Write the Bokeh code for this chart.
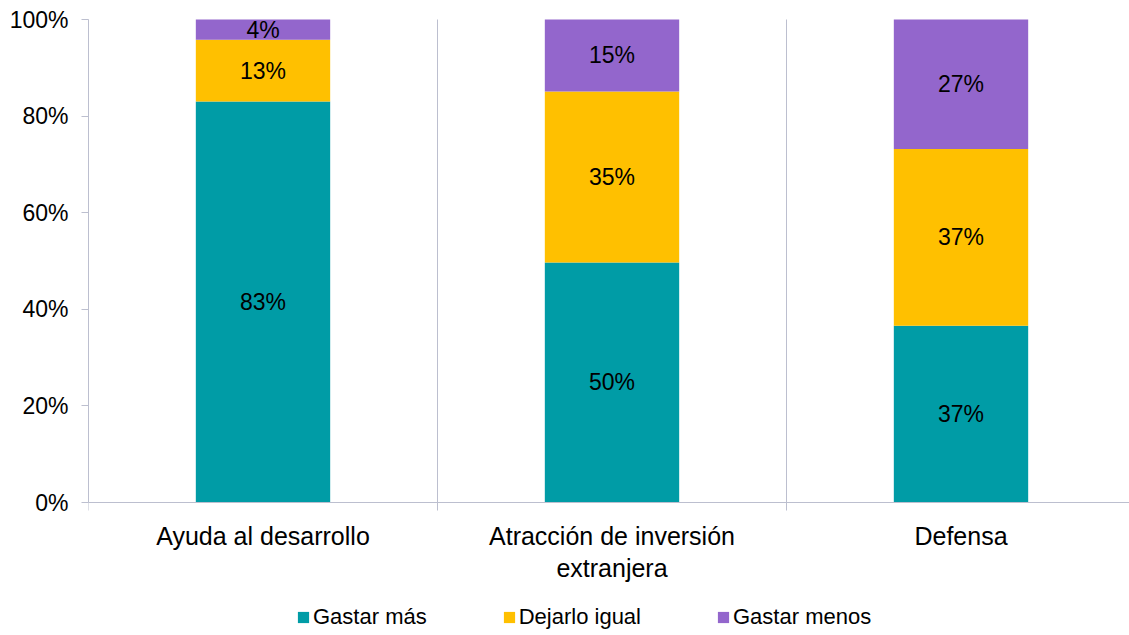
from bokeh.plotting import figure
from bokeh.models import (ColumnDataSource, Range1d, FixedTicker, Legend, LegendItem,
                          PrintfTickFormatter, Span)
from bokeh.core.properties import value
from bokeh.embed import file_html
from bokeh.resources import INLINE

categories = ["Ayuda al desarrollo", "Atracción de inversión\nextranjera", "Defensa"]
series = ["Gastar más", "Dejarlo igual", "Gastar menos"]
gastar_mas = [83.0, 49.7, 36.6]
dejarlo_igual = [12.8, 35.4, 36.6]
gastar_menos = [4.2, 14.9, 26.8]
colors = ["#009CA6", "#FFC000", "#9366CC"]
y_ticks = [0, 20, 40, 60, 80, 100]

FONT = "Liberation Sans"
AXIS_COLOR = "#BCBFCF"

W, H = 1129, 635
LEFT, TOP, ZERO = 88, 19, 502          # page pixel positions of the plot area
PX = (ZERO - TOP) / 100.0              # pixels per percent
CAT_W = 349                            # pixels per category

xs = [i + 0.5 for i in range(len(categories))]
data = dict(x=xs)
keys = ["s0", "s1", "s2"]
for k, vals in zip(keys, [gastar_mas, dejarlo_igual, gastar_menos]):
    data[k] = vals
src = ColumnDataSource(data)

p = figure(width=W, height=H, output_backend="svg", toolbar_location=None,
           x_axis_location=None,
           x_range=Range1d(0, (W - LEFT) / CAT_W),
           y_range=Range1d(-(H - ZERO) / PX, 100 + TOP / PX),
           min_border_left=LEFT, min_border_right=0, min_border_top=0, min_border_bottom=0)
p.outline_line_color = None
p.xgrid.visible = False
p.ygrid.visible = False

# category separators (with the tick stubs below the axis)
bounds = list(range(len(categories) + 1))
p.segment(x0=bounds, x1=bounds, y0=[-8 / PX] * len(bounds), y1=[100] * len(bounds),
          line_color=AXIS_COLOR, line_width=1)
p.add_layout(Span(location=0, dimension="width", line_color=AXIS_COLOR, line_width=1))

renderers = p.vbar_stack(keys, x="x", width=0.385, color=colors, line_color=None, source=src)

# segment labels
lx, ly, lt = [], [], []
for i, x in enumerate(xs):
    bottom = 0.0
    for vals in [gastar_mas, dejarlo_igual, gastar_menos]:
        v = vals[i]
        lx.append(x)
        ly.append(bottom + v / 2)
        lt.append(f"{round(v)}%")
        bottom += v
lsrc = ColumnDataSource(dict(x=lx, y=ly, t=lt))
p.text(x="x", y="y", text="t", source=lsrc, text_font=value(FONT), text_font_size="23px",
       text_align="center", text_baseline="middle", text_color="#000000")

# category labels
csrc = ColumnDataSource(dict(x=xs, y=[0] * len(xs), t=categories))
p.text(x="x", y="y", text="t", source=csrc, y_offset=19, text_font=value(FONT),
       text_font_size="25px", text_align="center", text_baseline="top",
       text_line_height=1.15, text_color="#000000")

# y axis
p.yaxis.bounds = (0, 100)
p.yaxis.ticker = FixedTicker(ticks=y_ticks)
p.yaxis.formatter = PrintfTickFormatter(format="%d%%")
p.yaxis.axis_line_color = AXIS_COLOR
p.yaxis.major_tick_line_color = AXIS_COLOR
p.yaxis.major_tick_out = 7
p.yaxis.major_tick_in = 0
p.yaxis.minor_tick_line_color = None
p.yaxis.major_label_standoff = 13
p.yaxis.major_label_text_font = FONT
p.yaxis.major_label_text_font_size = "23px"
p.yaxis.major_label_text_color = "#000000"

legend = Legend(items=[LegendItem(label=s, renderers=[r]) for s, r in zip(series, renderers)],
                orientation="horizontal", location=(208, 5),
                glyph_width=14, glyph_height=14, label_standoff=3, spacing=75,
                padding=0, margin=0, border_line_color=None, background_fill_alpha=0,
                label_text_font=FONT, label_text_font_size="22px", label_text_color="#000000",
                label_height=22)
p.add_layout(legend, "center")

open("out.html", "w").write(file_html(p, INLINE))
